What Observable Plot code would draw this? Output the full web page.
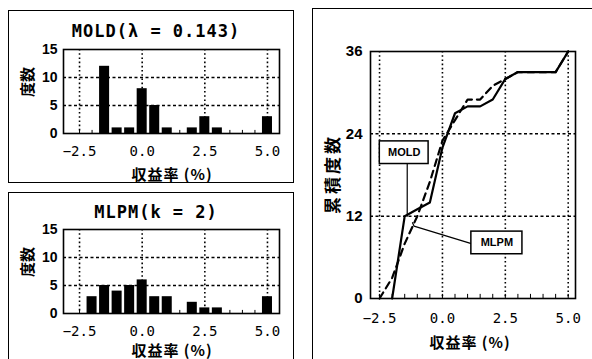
<!DOCTYPE html>
<html><head><meta charset="utf-8">
<script src="https://cdn.jsdelivr.net/npm/d3@7"></script>
<script src="https://cdn.jsdelivr.net/npm/@observablehq/plot@0.6"></script>
<style>
body{margin:0;background:#fff;}
#root{position:relative;width:592px;height:359px;overflow:hidden;background:#fff;}
.box{position:absolute;border:1.5px solid #000;box-sizing:border-box;}
.t{position:absolute;transform:translate(-50%,-50%);white-space:nowrap;color:#000;line-height:1;}
.title{font-family:"DejaVu Sans Mono",monospace;font-weight:bold;font-size:17px;letter-spacing:1px;}
.xl{font-family:"Noto Sans CJK JP",sans-serif;font-weight:bold;font-size:15px;letter-spacing:1px;}
.yl{font-family:"Noto Sans CJK JP",sans-serif;font-weight:bold;font-size:15px;transform:translate(-50%,-50%) rotate(-90deg);}
</style></head><body><div id="root"></div>
<script>
// ---- data ----
const bins = [-2.0, -1.5, -1.0, -0.5, 0.0, 0.5, 1.0, 1.5, 2.0, 2.5, 3.0, 3.5, 4.0, 4.5, 5.0];
const moldCounts = [0, 12, 1, 1, 8, 5, 1, 0, 1, 3, 1, 0, 0, 0, 3];
const mlpmCounts = [3, 5, 4, 5, 6, 3, 3, 0, 2, 1, 1, 0, 0, 0, 3];

const moldCumX = [-2.0, -1.5, -1.0, -0.5, 0.0, 0.5, 1.0, 1.5, 2.0, 2.5, 3.0, 3.5, 4.0, 4.5, 5.0];
const moldCumY = [0, 12, 13, 14, 22, 27, 28, 28, 29, 32, 33, 33, 33, 33, 36];
const mlpmCumX = [-2.5, -2.0, -1.5, -1.0, -0.5, 0.0, 0.5, 1.0, 1.5, 2.0, 2.5, 3.0, 3.5, 4.0, 4.5, 5.0];
const mlpmCumY = [0, 3, 8, 12, 17, 23, 26, 29, 29, 31, 32, 33, 33, 33, 33, 36];

const xTicks = [-2.5, 0.0, 2.5, 5.0];
const histYTicks = [0, 5, 10, 15];
const cumYTicks = [0, 12, 24, 36];
const minorTicks = [-2.5, -2.0, -1.5, -1.0, -0.5, 0.0, 0.5, 1.0, 1.5, 2.0, 2.5, 3.0, 3.5, 4.0, 4.5, 5.0];

const titles = ["MOLD(λ = 0.143)", "MLPM(k = 2)"];
const xLabel = "収益率 (%)";
const histYLabel = "度数";
const cumYLabel = "累積度数";

// annotation boxes (data units) and leader lines
const noteLabels = ["MOLD", "MLPM"];
const noteX1 = [-2.49, 1.15], noteX2 = [-0.55, 3.18];
const noteY1 = [19.6, 6.45], noteY2 = [22.9, 9.75];
const moldLeaderX = [-1.4, -1.4], moldLeaderY = [19.6, 12.0];
const mlpmLeaderX = [1.15, -1.13, -1.19], mlpmLeaderY = [8.0, 10.55, 11.05];

// ---- drawing ----
const root = document.getElementById("root");
const fmt = d3.format(".1f");
const BLACK = "black";

function place(el, left, top) {
  el.style.position = "absolute";
  el.style.left = left + "px";
  el.style.top = top + "px";
  root.appendChild(el);
}
function box(l, t, w, h) {
  const d = document.createElement("div");
  d.className = "box";
  d.style.width = w + "px"; d.style.height = h + "px";
  place(d, l, t);
}
function txt(s, cls, cx, cy, extra) {
  const d = document.createElement("div");
  d.className = "t " + cls;
  d.textContent = s;
  d.style.left = cx + "px"; d.style.top = cy + "px";
  if (extra) Object.assign(d.style, extra);
  root.appendChild(d);
  return d;
}

const common = {
  style: {background: "transparent", color: "black", overflow: "visible"}
};

function hist(counts, height, mt, mb) {
  const data = bins.map((x, i) => ({x, count: counts[i]})).filter(d => d.count > 0);
  return Plot.plot({
    ...common,
    width: 285, height,
    marginLeft: 55, marginRight: 14, marginTop: mt, marginBottom: mb,
    x: {domain: [-3.14, 5.48], axis: null},
    y: {domain: [0, 15], axis: null},
    marks: [
      Plot.gridX(xTicks, {stroke: BLACK, strokeOpacity: 1, strokeWidth: 1.6, strokeDasharray: "1.6,2.6"}),
      Plot.gridY([5, 10], {stroke: BLACK, strokeOpacity: 1, strokeWidth: 1.5, strokeDasharray: "3,2.5"}),
      Plot.rectY(data, {x1: d => d.x - 0.2, x2: d => d.x + 0.2, y: "count", fill: BLACK}),
      Plot.ruleX(minorTicks, {y1: 0, y2: 0.55, stroke: BLACK, strokeWidth: 1}),
      Plot.frame({stroke: BLACK, strokeWidth: 1.6}),
      Plot.axisX(xTicks, {tickSize: 0, tickPadding: 13, tickFormat: fmt, fontSize: 14, fontFamily: "DejaVu Sans Mono", label: null}),
      Plot.axisY(histYTicks, {tickSize: 0, tickPadding: 6, fontSize: 14, fontWeight: "bold", fontFamily: "Liberation Sans", label: null})
    ]
  });
}

// panel borders
box(8, 10, 286, 173);
box(8, 192, 286, 200);
box(312, 8, 300, 400);

const h1 = hist(moldCounts, 172, 39, 49);
place(h1, 8, 10);
const h2 = hist(mlpmCounts, 167, 37, 46);
place(h2, 8, 192);

const moldLine = moldCumX.map((x, i) => ({x, y: moldCumY[i]}));
const mlpmLine = mlpmCumX.map((x, i) => ({x, y: mlpmCumY[i]}));
const notes = noteLabels.map((label, i) => ({label, x1: noteX1[i], x2: noteX2[i], y1: noteY1[i], y2: noteY2[i]}));
const moldLeader = moldLeaderX.map((x, i) => ({x, y: moldLeaderY[i]}));
const mlpmLeader = mlpmLeaderX.map((x, i) => ({x, y: mlpmLeaderY[i]}));

const cum = Plot.plot({
  ...common,
  width: 280, height: 351,
  marginLeft: 58, marginRight: 17, marginTop: 43, marginBottom: 61,
  x: {domain: [-2.86, 5.29], axis: null},
  y: {domain: [0, 36], axis: null},
  marks: [
    Plot.gridX(xTicks, {stroke: BLACK, strokeOpacity: 1, strokeWidth: 1.6, strokeDasharray: "1.6,2.6"}),
    Plot.gridY([12, 24], {stroke: BLACK, strokeOpacity: 1, strokeWidth: 1.5, strokeDasharray: "3,2.5"}),
    Plot.ruleX(minorTicks, {y1: 0, y2: 0.6, stroke: BLACK, strokeWidth: 1}),
    Plot.line(mlpmLine, {x: "x", y: "y", stroke: BLACK, strokeWidth: 2.2, strokeDasharray: "7,5"}),
    Plot.line(moldLine, {x: "x", y: "y", stroke: BLACK, strokeWidth: 2.2}),
    Plot.line(moldLeader, {x: "x", y: "y", stroke: BLACK, strokeWidth: 1.2}),
    Plot.line(mlpmLeader, {x: "x", y: "y", stroke: BLACK, strokeWidth: 1.2}),
    Plot.rect(notes, {x1: "x1", x2: "x2", y1: "y1", y2: "y2", fill: "white", stroke: BLACK, strokeWidth: 1.5}),
    Plot.text(notes, {x: d => (d.x1 + d.x2) / 2, y: d => (d.y1 + d.y2) / 2, text: "label", fontSize: 11, fontWeight: "bold", fontFamily: "Liberation Sans", fill: BLACK}),
    Plot.frame({stroke: BLACK, strokeWidth: 1.6}),
    Plot.axisX(xTicks, {tickSize: 0, tickPadding: 15, tickFormat: fmt, fontSize: 14, fontFamily: "DejaVu Sans Mono", label: null}),
    Plot.axisY(cumYTicks, {tickSize: 0, tickPadding: 8, fontSize: 15, fontWeight: "bold", fontFamily: "Liberation Sans", label: null})
  ]
});
place(cum, 312, 8);

// titles and axis labels
txt(titles[0], "title", 156, 31);
txt(titles[1], "title", 156, 212);
txt(xLabel, "xl", 172, 173);
txt(xLabel, "xl", 172, 349);
txt(xLabel, "xl", 470, 341);
txt(histYLabel, "yl", 26, 82);
txt(histYLabel, "yl", 26, 262);
txt(cumYLabel, "yl", 331, 174, {letterSpacing: "3px", fontSize: "17px"});
</script></body></html>
